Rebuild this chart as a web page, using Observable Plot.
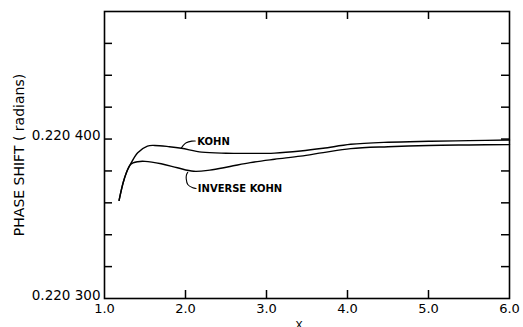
<!DOCTYPE html>
<html>
<head>
<meta charset="utf-8">
<script src="https://cdn.jsdelivr.net/npm/d3@7"></script>
<script src="https://cdn.jsdelivr.net/npm/@observablehq/plot@0.6"></script>
<style>
  html, body { margin: 0; padding: 0; background: #fff; }
  svg { display: block; }
</style>
</head>
<body>
<div id="chart"></div>
<script>
// Kohn curve
const kohnX = [1.18, 1.23, 1.27, 1.32, 1.41, 1.53, 1.62, 1.80, 1.95, 2.20, 2.50, 2.80, 3.10, 3.42, 3.70, 4.04, 4.50, 5.00, 5.50, 6.00];
const kohnY = [0.2203616, 0.2203726, 0.2203789, 0.2203841, 0.2203914, 0.2203956, 0.2203960, 0.2203952, 0.2203942, 0.2203918, 0.2203911, 0.2203910, 0.2203912, 0.2203925, 0.2203942, 0.2203967, 0.2203980, 0.2203986, 0.2203990, 0.2203994];
// Inverse Kohn curve
const invX = [1.18, 1.23, 1.27, 1.32, 1.41, 1.50, 1.70, 1.90, 2.10, 2.30, 2.55, 2.80, 3.10, 3.42, 3.70, 4.04, 4.50, 5.00, 5.50, 6.00];
const invY = [0.2203616, 0.2203726, 0.2203789, 0.2203841, 0.2203858, 0.2203860, 0.2203845, 0.2203820, 0.2203798, 0.2203805, 0.2203828, 0.2203852, 0.2203873, 0.2203893, 0.2203915, 0.2203940, 0.2203952, 0.2203960, 0.2203963, 0.2203965];

// curve labels and leader lines
const labelNames = ["KOHN", "INVERSE KOHN"];
const labelX = [2.145, 2.152];
const labelY = [0.2203981, 0.2203690];
const kohnLeaderX = [1.947, 1.975, 2.009, 2.078, 2.12];
const kohnLeaderY = [0.2203942, 0.2203962, 0.2203977, 0.2203987, 0.2203988];
const invLeaderX = [2.028, 2.012, 2.009, 2.028, 2.090, 2.13];
const invLeaderY = [0.2203792, 0.2203775, 0.2203750, 0.2203715, 0.2203694, 0.2203690];

// axes
const xDomain = [1, 6];
const yDomain = [0.22030, 0.22048];
const xTickVals = [2, 3, 4, 5];
const xLabelVals = [1, 2, 3, 4, 5, 6];
const xLabels = ["1.0", "2.0", "3.0", "4.0", "5.0", "6.0"];
const yTickVals = [0.22032, 0.22034, 0.22036, 0.22038, 0.22040, 0.22042, 0.22044, 0.22046];
const yLabelVals = [0.22030, 0.22040];
const yLabels = ["0.220 300", "0.220 400"];
const yTitle = "PHASE SHIFT ( radians)";
const xTitle = "X";

const W = 523, H = 327;
const mL = 104, mR = 14, mT = 11, mB = 29;
const innerW = W - mL - mR, innerH = H - mT - mB;
const tickLen = 8;

const kohn = kohnX.map((x, i) => ({x, y: kohnY[i]}));
const inv = invX.map((x, i) => ({x, y: invY[i]}));
const kLead = kohnLeaderX.map((x, i) => ({x, y: kohnLeaderY[i]}));
const iLead = invLeaderX.map((x, i) => ({x, y: invLeaderY[i]}));
const labels = labelNames.map((t, i) => ({t, x: labelX[i], y: labelY[i]}));

const font = "DejaVu Sans, sans-serif";

const chart = Plot.plot({
  width: W, height: H,
  marginLeft: mL, marginRight: mR, marginTop: mT, marginBottom: mB,
  style: {fontFamily: font, background: "#fff", color: "#000"},
  x: {domain: xDomain},
  y: {domain: yDomain},
  marks: [
    // tick labels
    Plot.axisX({ticks: xLabelVals, tickSize: 0, tickPadding: 5, tickFormat: (d) => xLabels[xLabelVals.indexOf(d)], label: null, fontSize: 13}),
    Plot.axisY({ticks: yLabelVals, tickSize: 0, tickPadding: 4, dy: -3, tickFormat: (d) => yLabels[yLabelVals.indexOf(d)], label: null, fontSize: 13.5}),
    // inward ticks
    Plot.tickX(xTickVals, {x: d => d, insetTop: innerH - tickLen, strokeWidth: 1.5}),
    Plot.tickX(xTickVals, {x: d => d, insetBottom: innerH - tickLen, strokeWidth: 1.5}),
    Plot.tickY(yTickVals, {y: d => d, insetRight: innerW - tickLen, strokeWidth: 1.5}),
    Plot.tickY(yTickVals, {y: d => d, insetLeft: innerW - tickLen, strokeWidth: 1.5}),
    Plot.frame({stroke: "#000", strokeWidth: 1.6}),
    // curves
    Plot.line(kohn, {x: "x", y: "y", curve: "catmull-rom", stroke: "#000", strokeWidth: 1.4}),
    Plot.line(inv, {x: "x", y: "y", curve: "catmull-rom", stroke: "#000", strokeWidth: 1.4}),
    Plot.line(kLead, {x: "x", y: "y", curve: "catmull-rom", stroke: "#000", strokeWidth: 1.1}),
    Plot.line(iLead, {x: "x", y: "y", curve: "catmull-rom", stroke: "#000", strokeWidth: 1.1}),
    Plot.text(labels, {x: "x", y: "y", text: "t", textAnchor: "start", fontSize: 10, fontWeight: "bold", fill: "#000"}),
    // axis titles
    Plot.text([yTitle], {frameAnchor: "left", dx: -85, rotate: -90, textAnchor: "middle", lineAnchor: "middle", text: d => d, fontSize: 14, fill: "#000"}),
    Plot.text([xTitle], {x: [3.4], frameAnchor: "bottom", dy: 30, text: d => d, fontSize: 11, fill: "#000"})
  ]
});
document.getElementById("chart").appendChild(chart);
</script>
</body>
</html>
